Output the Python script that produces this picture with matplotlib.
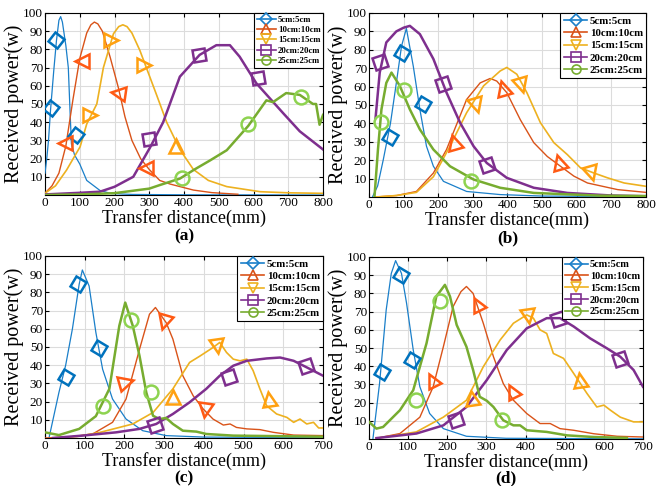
import matplotlib
matplotlib.use("Agg")
import matplotlib.pyplot as plt
from matplotlib.lines import Line2D
from matplotlib.markers import MarkerStyle
from matplotlib.transforms import Affine2D

plt.rcParams['font.family'] = 'Liberation Serif'

labels = ['5cm:5cm', '10cm:10cm', '15cm:15cm', '20cm:20cm', '25cm:25cm']

# ---------------- (a) ----------------
a_x = [
    [0, 5, 10, 16, 25, 33, 40, 45, 50, 60, 67, 72, 76, 85, 100, 120, 158, 190, 250, 400, 800],
    [0, 20, 40, 60, 80, 100, 120, 132, 142, 152, 165, 187, 211, 230, 250, 275, 300, 330, 360,
     427, 480, 555],
    [0, 30, 62, 101, 120, 149, 168, 197, 212, 224, 236, 250, 273, 321, 350, 388, 427, 470, 523,
     619, 700, 800],
    [0, 100, 158, 200, 254, 302, 340, 388, 445, 493, 532, 560, 608, 685, 733, 800],
    [0, 100, 200, 300, 331, 388, 430, 475, 523, 585, 637, 656, 694, 733, 771, 780, 790, 800],
]
a_y = [
    [12, 20, 30, 47, 68, 85, 96, 98, 95, 82, 70, 46, 28, 22, 17, 8, 2.5, 0.8, 0.3, 0.1, 0],
    [1, 5, 12, 27, 52, 75, 89, 93.5, 95, 94, 90, 76, 59, 43, 30, 20, 14, 8, 6, 2.7, 1.3, 0.4],
    [1, 5, 13.7, 26.5, 39, 50, 70, 88.6, 92.5, 93.5, 92.5, 89, 79.4, 55, 40, 25, 14, 8, 4.6,
     1.8, 1.2, 0.9],
    [0.3, 1.2, 1.8, 4.5, 10, 26, 40, 65, 77, 82.3, 82.3, 76, 61.4, 45, 35, 25],
    [0, 0.3, 1, 3.5, 5.5, 9, 14, 19, 24.6, 38, 52, 51, 56, 55, 50, 50, 38.6, 44],
]
a_mx = [[16, 33, 89], [57, 105, 211, 292], [129, 189, 284, 377],
        [299, 443, 613], [393, 584, 738]]
a_my = [[48, 85, 33], [28.6, 73.6, 56, 15], [44, 85, 71.4, 27],
        [30.8, 76.9, 64], [9.5, 39, 54]]

# ---------------- (b) ----------------
b_x = [
    [10, 25, 41, 62, 79, 94, 108, 128, 147, 166, 186, 215, 282, 379, 500, 800],
    [20, 80, 137, 186, 224, 250, 282, 321, 350, 369, 398, 437, 476, 515, 553, 592, 631, 718, 800],
    [20, 80, 137, 186, 234, 282, 331, 379, 398, 427, 456, 495, 534, 573, 611, 650, 689, 737, 800],
    [19, 31, 50, 79, 100, 118, 147, 186, 224, 263, 302, 340, 398, 476, 573, 700, 800],
    [16, 26, 36, 50, 65, 89, 118, 147, 186, 234, 302, 379, 476, 669, 800],
]
b_y = [
    [0, 6, 20, 40, 62, 82, 91.6, 71, 47.6, 27.6, 16.7, 8.5, 3, 1.3, 0.5, 0.2],
    [0, 0.8, 3, 13, 25.8, 38, 53, 62, 64.4, 63, 56.7, 42, 29.5, 22, 16.7, 11.3, 7.6, 4, 2.5],
    [0, 0.8, 2.5, 11, 27.6, 45.8, 60.4, 68.5, 70.4, 66.7, 56.7, 40.4, 29.5, 23, 15.8, 13, 10.4,
     7.6, 5.8],
    [43, 67.6, 84, 90, 92, 93, 88.5, 75, 56.7, 40.4, 27.6, 18.5, 10.4, 5, 2.2, 0.8, 0.4],
    [0.4, 26, 47.6, 62, 67.6, 60.4, 47.6, 36.7, 25.8, 16.7, 9.5, 5, 2.2, 0.7, 0.5],
]
b_mx = [[62, 94, 155], [246, 387, 548], [309, 440, 640], [31, 213, 342], [36, 102, 294]]
b_my = [[32.5, 78.2, 50.4], [29.8, 59, 19], [50, 60.7, 13], [73.5, 61.6, 17.6],
        [40.7, 58, 8.9]]

# ---------------- (c) ----------------
c_x = [
    [10, 35, 52, 69, 86, 94, 111, 128, 145, 170, 204, 246, 305, 400, 700],
    [0, 60, 120, 170, 204, 238, 263, 278, 305, 322, 347, 373, 398, 423, 449, 466, 482, 508,
     541, 575, 626, 700],
    [20, 80, 137, 221, 272, 322, 364, 390, 423, 440, 457, 474, 491, 508, 524, 541, 558, 583,
     609, 626, 642, 659, 676, 689, 700],
    [20, 94, 179, 238, 280, 322, 364, 406, 440, 474, 508, 558, 592, 626, 659, 700],
    [0, 35, 86, 128, 162, 187, 202, 221, 238, 255, 272, 288, 305, 322, 347, 381, 406, 474, 700],
]
c_y = [
    [0, 25, 40, 60, 84.5, 92.3, 83.5, 58, 37.8, 21.4, 10.4, 4, 1.3, 0.5, 0.2],
    [0, 0.5, 2.2, 8.6, 21.4, 48.8, 68, 71.7, 63.4, 54.3, 34.2, 23.2, 16, 10.4, 7.1, 7.7, 5.8,
     5, 4.6, 3.1, 1.6, 1.3],
    [0, 0.8, 3, 7.7, 14, 27, 41.5, 45, 49.7, 52.5, 47, 43.3, 42.4, 43.3, 37, 27, 17.7, 13.2,
     11.3, 8.6, 10.4, 7.7, 8.6, 5.5, 5.5],
    [0, 1.3, 3.1, 5, 7.7, 13.2, 19.6, 27, 34.2, 39.7, 42.4, 43.7, 44.2, 42.4, 38.8, 34.2],
    [3.1, 1.6, 5, 12, 27, 61.6, 74.4, 61.6, 45, 25, 12.2, 10.4, 11, 7.7, 4, 3.5, 2.2, 1.3, 0.7],
]
c_mx = [[52, 83.5, 135], [204, 299, 402], [322, 432, 565], [276, 464, 658], [147, 217, 267]]
c_my = [[33.3, 84.6, 49.2], [30.5, 63.8, 15.4], [22.3, 50.6, 21.4], [7.1, 33.3, 39.3],
        [17.4, 64.7, 25]]

# ---------------- (d) ----------------
d_x = [
    [10, 27, 44, 57, 68, 83, 96, 113, 130, 155, 190, 249, 350, 700],
    [19, 79, 130, 164, 190, 215, 235, 249, 266, 292, 318, 343, 369, 403, 437, 463, 488, 523,
     574, 634, 700],
    [19, 121, 190, 249, 292, 335, 369, 403, 420, 437, 454, 471, 497, 523, 557, 582, 600, 617,
     642, 676, 700],
    [19, 121, 190, 249, 301, 352, 403, 454, 488, 523, 565, 608, 642, 676, 700],
    [0, 19, 36, 79, 113, 147, 172, 194, 207, 224, 249, 266, 283, 301, 318, 343, 369, 386, 403,
     454, 506, 574, 659],
]
d_y = [
    [0, 30.5, 71, 91, 98, 91, 74.6, 49, 28.7, 14, 5.7, 1.5, 0.4, 0.1],
    [0.4, 3, 12, 28.7, 50.7, 72.8, 81, 83.8, 80, 63.6, 45.2, 30.5, 21.3, 14, 8.5, 8.5, 5.7,
     4.8, 2.9, 1.5, 1.1],
    [0.3, 3.9, 12, 21.3, 39.7, 54.4, 63.6, 68.2, 66.4, 60, 58, 47, 44.3, 36, 25, 17.6, 18.6,
     15.8, 12, 9.4, 9.4],
    [0.5, 3, 7.5, 17.6, 32.4, 48.9, 60.8, 66.4, 66.4, 61.8, 55.3, 49.8, 45.2, 37.9, 28.7],
    [9.4, 5.7, 6.6, 15.8, 26.8, 52.6, 78.3, 84.7, 78.3, 62.7, 50.7, 37.9, 23.2, 21, 17.6,
     10.3, 7.5, 7.5, 4.8, 3.9, 2, 1.1, 0.6],
]
d_mx = [[32, 83, 111], [162, 275, 365], [262, 407, 538], [222, 484, 640], [119, 181, 339]]
d_my = [[37, 90, 43.4], [32.4, 74, 26.5], [22.8, 67.6, 32.4], [10.3, 65.8, 43.7],
        [21.7, 76, 10.3]]

# styles
line_colors = ['#1a7fc9', '#D95319', '#EDB120', '#7E2F8E', '#77AC30']
mark_colors = ['#0072BD', '#FF5A14', '#FFA010', '#7E2F8E', '#8ED350']
line_widths = [0.9, 1.0, 1.2, 1.8, 1.8]
markers = ['D', '^', 'v', 's', 'o']
msizes = [8, 10, 10, 9, 10]

panels = [
    dict(x=a_x, y=a_y, mx=a_mx, my=a_my, xmax=800, tag='(a)', tag_y=236,
         rect=[0.0675, 0.5988, 0.4168, 0.3745], leg=6.3,
         ang=[[10, 10, 10], [90, 90, 80, 90], [90, 90, 90, 180], [10, 10, 10], [0, 0, 0]]),
    dict(x=b_x, y=b_y, mx=b_mx, my=b_my, xmax=800, tag='(b)', tag_y=238,
         rect=[0.5532, 0.5947, 0.4153, 0.3786], leg=7.8,
         ang=[[15, 15, 15], [15, 15, 15], [15, 15, 15], [15, 15, 15], [0, 0, 0]]),
    dict(x=c_x, y=c_y, mx=c_mx, my=c_my, xmax=700, tag='(c)', tag_y=478.5,
         rect=[0.0675, 0.0988, 0.4168, 0.3745], leg=7.8,
         ang=[[15, 15, 15], [-75, 165, 170], [180, 10, 185], [15, 15, 15], [0, 0, 0]]),
    dict(x=d_x, y=d_y, mx=d_mx, my=d_my, xmax=700, tag='(d)', tag_y=478.5,
         rect=[0.5532, 0.0967, 0.4108, 0.3745], leg=7.4,
         ang=[[15, 15, 15], [30, 30, 30], [185, 10, 185], [15, 15, 15], [0, 0, 0]]),
]

fig = plt.figure(figsize=(6.67, 4.86), dpi=100)
H = 486.0

for p in panels:
    ax = fig.add_axes(p['rect'])
    for i in range(5):
        ax.plot(p['x'][i], p['y'][i], color=line_colors[i], lw=line_widths[i], zorder=3)
        for k in range(len(p['mx'][i])):
            ms = MarkerStyle(markers[i], transform=Affine2D().rotate_deg(p['ang'][i][k]))
            ax.plot(p['mx'][i][k], p['my'][i][k], linestyle='none', marker=ms,
                    ms=msizes[i], mfc='none', mec=mark_colors[i], mew=1.8, zorder=4)
    ax.set_xlim(0, p['xmax'])
    ax.set_ylim(0, 100)
    ax.set_xticks(range(0, p['xmax'] + 1, 100))
    ax.set_yticks(range(10, 101, 10))
    ax.grid(True, color='#dcdcdc', lw=0.8)
    ax.set_axisbelow(True)
    ax.tick_params(direction='in', labelsize=9.5, length=3, pad=1.5, top=True, right=True)
    for s in ax.spines.values():
        s.set_linewidth(0.8)
    ax.set_xlabel('Transfer distance(mm)', fontsize=13, labelpad=0)
    ax.set_ylabel('Received power(w)', fontsize=14.5, labelpad=-1)
    handles = [Line2D([], [], color=line_colors[i], lw=1.2, marker=markers[i], ms=6.5,
                      mfc='none', mec=line_colors[i], mew=1.2) for i in range(5)]
    leg = ax.legend(handles, labels, loc='upper right', bbox_to_anchor=(1, 1),
                    borderaxespad=0, fancybox=False, framealpha=1, edgecolor='black',
                    prop={'size': p['leg'], 'weight': 'bold'}, handlelength=2.2,
                    handletextpad=0.2, labelspacing=0.25, borderpad=0.3)
    leg.get_frame().set_linewidth(0.8)
    leg.set_zorder(10)
    cx = p['rect'][0] + p['rect'][2] / 2
    fig.text(cx, 1 - p['tag_y'] / H, p['tag'], ha='center', va='center',
             fontsize=12.5, fontweight='bold')

fig.savefig('out.png', dpi=100)
